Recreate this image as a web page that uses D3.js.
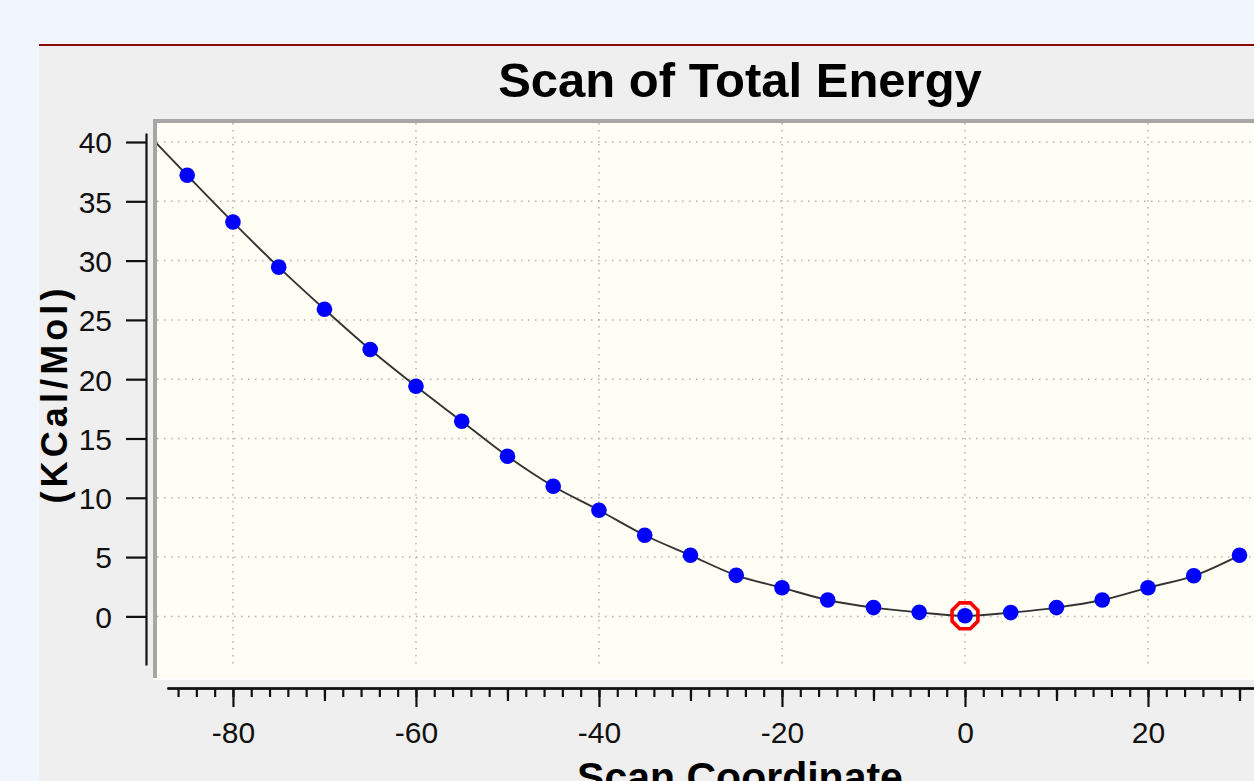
<!DOCTYPE html>
<html>
  <head>
    <meta charset="utf-8">
    <title>Scan of Total Energy</title>
    <script src="https://cdnjs.cloudflare.com/ajax/libs/d3/7.8.5/d3.min.js"></script>
    <style>
      body { margin: 0; background: #f1f6fe; overflow: hidden; }
      .tick text { font-family: "Liberation Sans", Arial, sans-serif; font-size: 30px; fill: #111; }
    </style>
  </head>
  <body>

    <script>
      // scan points (degrees) and relative energy (kcal/mol)
      var scanCoord = [-90, -85, -80, -75, -70, -65, -60, -55, -50, -45, -40, -35, -30,
                       -25, -20, -15, -10, -5, 0, 5, 10, 15, 20, 25, 30];
      var energy = [41.2, 37.2, 33.25, 29.45, 25.9, 22.5, 19.4, 16.45, 13.5, 10.97, 8.95, 6.84, 5.15,
                    3.46, 2.42, 1.38, 0.74, 0.34, 0.05, 0.32, 0.74, 1.38, 2.42, 3.42, 5.15];
      var yTicks = [0, 5, 10, 15, 20, 25, 30, 35, 40];
      var xTicks = [-80, -60, -40, -20, 0, 20];

      var W = 1254, H = 781;

      var svg = d3.select("body").append("svg")
        .attr("width",  W)
        .attr("height", H);

      // panel
      svg.append("rect")
        .attr("x", 39).attr("y", 45)
        .attr("width", W - 39).attr("height", H - 45)
        .attr("fill", "#efefef");
      svg.append("line")
        .attr("x1", 39).attr("x2", W)
        .attr("y1", 45).attr("y2", 45)
        .attr("stroke", "#8b0a0a").attr("stroke-width", 2);

      var plotL = 157, plotT = 123, plotB = 678;

      var x = d3.scaleLinear().domain([-88.3, 30]).range([plotL, 1239.5]);
      var y = d3.scaleLinear().domain([-4.1, 40.76]).range([665, 133]);

      // plot area
      svg.append("rect")
        .attr("x", plotL).attr("y", plotT)
        .attr("width", W - plotL + 10).attr("height", plotB - plotT)
        .attr("fill", "#fefef5");
      svg.append("path")
        .attr("d", "M" + (plotL - 2) + "," + plotB + "V" + (plotT - 2) + "H" + (W + 10))
        .attr("fill", "none").attr("stroke", "#a6a6a6").attr("stroke-width", 4);
      svg.append("line")
        .attr("x1", plotL - 4).attr("x2", W)
        .attr("y1", plotB + 1).attr("y2", plotB + 1)
        .attr("stroke", "#ffffff").attr("stroke-width", 2);

      svg.append("clipPath").attr("id", "clip")
        .append("rect")
        .attr("x", plotL).attr("y", plotT)
        .attr("width", W - plotL).attr("height", plotB - plotT);

      var plot = svg.append("g").attr("clip-path", "url(#clip)");

      // grid (the 40 line lies just past the right edge)
      plot.selectAll(".hgrid").data(yTicks).enter().append("line")
        .attr("x1", plotL).attr("x2", W)
        .attr("y1", function (d){ return y(d); })
        .attr("y2", function (d){ return y(d); })
        .attr("stroke", "#b2b2b2").attr("stroke-width", 1.5)
        .attr("stroke-dasharray", "1.5,5.5");
      plot.selectAll(".vgrid").data(xTicks).enter().append("line")
        .attr("x1", function (d){ return x(d); })
        .attr("x2", function (d){ return x(d); })
        .attr("y1", plotT).attr("y2", 669)
        .attr("stroke", "#b2b2b2").attr("stroke-width", 1.5)
        .attr("stroke-dasharray", "1.5,5.5");

      var pts = scanCoord.map(function (c, i){ return { x: c, e: energy[i] }; });

      // curve
      var line = d3.line()
        .x(function (d){ return x(d.x); })
        .y(function (d){ return y(d.e); })
        .curve(d3.curveCatmullRom);
      plot.append("path")
        .datum(pts)
        .attr("d", line)
        .attr("fill", "none")
        .attr("stroke", "#333")
        .attr("stroke-width", 1.9);

      // points
      plot.selectAll("circle").data(pts).enter().append("circle")
        .attr("cx", function (d){ return x(d.x); })
        .attr("cy", function (d){ return y(d.e); })
        .attr("r", 7.8)
        .attr("fill", "#0000ff");

      // highlight of the minimum
      var minPt = pts[d3.minIndex(pts, function (d){ return d.e; })];
      var oct = d3.range(8).map(function (k){
        var a = Math.PI / 8 + k * Math.PI / 4;
        return [x(minPt.x) + 14 * Math.cos(a), y(minPt.e) + 14 * Math.sin(a)];
      });
      plot.append("path")
        .attr("d", "M" + oct.join("L") + "Z")
        .attr("fill", "none")
        .attr("stroke", "#ff0000")
        .attr("stroke-width", 3.6);

      var fmt = function (d){ return String(d); };

      // y axis
      var yAxis = svg.append("g")
        .attr("transform", "translate(146,0)")
        .call(d3.axisLeft(y).tickValues(yTicks).tickSize(20).tickSizeOuter(0).tickPadding(14).tickFormat(fmt));
      yAxis.selectAll("text").attr("dy", "0.36em");

      // x axis, three tick levels
      var xa = x.copy().domain([-87.2, 46]).range([x(-87.2), x(46)]);
      svg.append("g")
        .attr("transform", "translate(0,688)")
        .call(d3.axisBottom(xa).tickValues(d3.range(-86, 46, 2)).tickSize(9).tickSizeOuter(0).tickFormat(""));
      svg.append("g")
        .attr("transform", "translate(0,688)")
        .call(d3.axisBottom(xa).tickValues(d3.range(-70, 46, 20)).tickSize(13).tickSizeOuter(0).tickFormat(""));
      var xMajor = svg.append("g")
        .attr("transform", "translate(0,688)")
        .call(d3.axisBottom(xa).tickValues(xTicks).tickSize(19).tickSizeOuter(0).tickPadding(14).tickFormat(fmt));
      svg.selectAll("g").selectAll(".tick line, path.domain")
        .attr("stroke", "#111").attr("stroke-width", 2.2);
      xMajor.selectAll("text").attr("dy", "0.72em");

      // titles
      svg.append("text")
        .attr("x", 740).attr("y", 97)
        .attr("text-anchor", "middle")
        .style("font-family", "'Liberation Sans', Arial, sans-serif")
        .style("font-weight", "bold")
        .style("font-size", "49px")
        .attr("fill", "#000")
        .text("Scan of Total Energy");

      svg.append("text")
        .attr("x", 740).attr("y", 791)
        .attr("text-anchor", "middle")
        .style("font-family", "'Liberation Sans', Arial, sans-serif")
        .style("font-weight", "bold")
        .style("font-size", "41px")
        .attr("fill", "#000")
        .text("Scan Coordinate");

      svg.append("text")
        .attr("transform", "translate(67,396) rotate(-90)")
        .attr("text-anchor", "middle")
        .style("font-family", "'Liberation Sans', Arial, sans-serif")
        .style("font-weight", "bold")
        .style("font-size", "36px")
        .attr("fill", "#000")
        .attr("textLength", 215)
        .attr("lengthAdjust", "spacing")
        .text("(KCal/Mol)");
    </script>

  </body>
</html>
